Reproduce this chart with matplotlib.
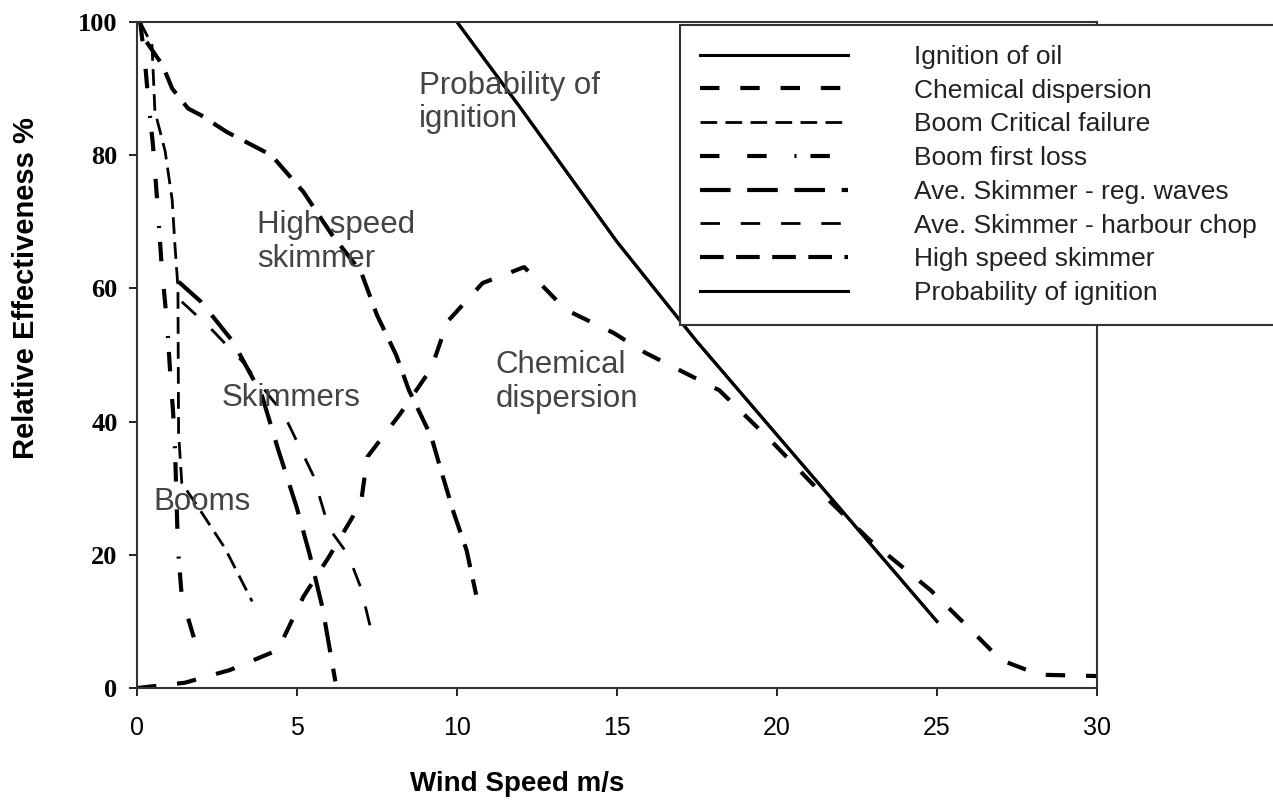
import matplotlib
matplotlib.use("Agg")
import matplotlib.pyplot as plt

plt.rcParams['lines.scale_dashes'] = False

# ---- data ----
ignition_x = [10, 12, 15, 17.5, 20, 22.5, 25]
ignition_y = [100, 87, 67, 52, 38, 24, 10]

chem_x = [0, 1.5, 2.9, 4.4, 5.2, 6.0, 7.0, 7.2, 8.2, 9.2, 9.7, 10.8, 12.1, 13.4,
          14.9, 15.9, 18.2, 19.8, 21.3, 22.9, 24.8, 25.9, 27, 28.2, 30]
chem_y = [0, 0.8, 2.7, 5.7, 13.7, 19.7, 27.8, 34.7, 41, 48, 55, 60.8, 63.2, 56.8,
          53.3, 50.3, 44.7, 37.2, 29.7, 22.2, 14.7, 9.5, 4.2, 2, 1.8]

boom_crit_x = [0.1, 0.47, 0.56, 0.88, 1.1, 1.19, 1.28, 1.3, 1.4, 2.0, 2.75, 3.6]
boom_crit_y = [100, 96.5, 86.6, 80.6, 73.3, 66.2, 60.2, 38.3, 30.8, 26.5, 21, 13]

boom_first_x = [0.1, 0.25, 0.34, 0.5, 0.65, 0.78, 0.94, 1.03, 1.13, 1.19, 1.28, 1.4, 1.8, 2.1]
boom_first_y = [100, 94, 89, 81.5, 72, 62.8, 54.8, 48, 41.3, 35.7, 21, 13.7, 7.2, 5]

skim_reg_x = [1.3, 2.0, 3.0, 3.9, 4.4, 5.0, 5.4, 5.8, 6.2]
skim_reg_y = [61, 58, 52, 44, 36, 27, 20, 12, 1]

skim_chop_x = [1.4, 2.3, 3.3, 4.6, 5.1, 5.5, 6.0, 6.6, 7.0, 7.3]
skim_chop_y = [58, 54, 49, 41, 36, 32, 24, 20, 15, 9]

hss_x = [0.3, 0.8, 1.1, 1.6, 2.0, 2.8, 4.2, 5.2, 6.1, 7.0, 7.5, 8.1, 8.5, 9.2, 9.5, 9.9, 10.3, 10.6]
hss_y = [97, 93.5, 90, 87, 86, 83.5, 80, 74.5, 68, 62.5, 56, 50, 44.7, 37.7, 32.7, 26.3, 20.7, 14]

x_ticks = [0, 5, 10, 15, 20, 25, 30]
y_ticks = [0, 20, 40, 60, 80, 100]

sans = ['Liberation Sans', 'DejaVu Sans']

fig = plt.figure(figsize=(12.73, 8.02), dpi=100)
ax = fig.add_axes([0.1076, 0.1421, 0.7541, 0.8305])

ax.plot(ignition_x, ignition_y, color='black', lw=2.2, label='Ignition of oil')
ax.plot(chem_x, chem_y, color='black', lw=3, dashes=(14, 15), label='Chemical dispersion')
ax.plot(boom_crit_x, boom_crit_y, color='black', lw=2, dashes=(12, 6), label='Boom Critical failure')
ax.plot(boom_first_x, boom_first_y, color='black', lw=3, dashes=(14, 20, 14, 20, 1.5, 10),
        label='Boom first loss')
ax.plot(skim_reg_x, skim_reg_y, color='black', lw=3, dashes=(22, 12), label='Ave. Skimmer - reg. waves')
ax.plot(skim_chop_x, skim_chop_y, color='black', lw=2, dashes=(14, 15), label='Ave. Skimmer - harbour chop')
ax.plot(hss_x, hss_y, color='black', lw=3, dashes=(17, 9), label='High speed skimmer')
ax.plot(ignition_x, ignition_y, color='black', lw=2.2, label='Probability of ignition')

ax.set_xlim(0, 30)
ax.set_ylim(0, 100)
ax.set_xticks(x_ticks)
ax.set_xticklabels([str(v) for v in x_ticks], fontsize=18, family=sans)
ax.set_yticks(y_ticks)
ax.set_yticklabels([str(v) for v in y_ticks], fontsize=19, fontweight='bold',
                   family=['Liberation Serif', 'DejaVu Serif'])
ax.tick_params(direction='out', length=6, width=1.2)
ax.tick_params(axis='x', pad=14)
ax.tick_params(axis='y', pad=8)
for sp in ax.spines.values():
    sp.set_linewidth(1.5)
    sp.set_color('#333333')

ax.set_xlabel('Wind Speed m/s', fontsize=20, fontweight='bold', family=sans)
ax.xaxis.set_label_coords(0.396, -0.125)
ax.set_ylabel('Relative Effectiveness %', fontsize=21, fontweight='bold', family=sans)
ax.yaxis.set_label_coords(-0.101, 0.60)

# labels written inside the plot
tkw = dict(fontsize=22.5, color='#444444', family=sans, linespacing=1.15)
ax.text(8.8, 92.7, 'Probability of\nignition', va='top', **tkw)
ax.text(3.75, 71.7, 'High speed\nskimmer', va='top', **tkw)
ax.text(2.65, 43.5, 'Skimmers', va='center', **tkw)
ax.text(0.5, 28, 'Booms', va='center', **tkw)
ax.text(11.2, 50.7, 'Chemical\ndispersion', va='top', **tkw)

leg = fig.legend(loc='upper left', bbox_to_anchor=(680 / 1273, 1 - 25 / 802),
                 borderaxespad=0, ncol=1, frameon=True, fancybox=False,
                 edgecolor='#333333', framealpha=1, handlelength=5.6,
                 handletextpad=2.5, labelspacing=0.37, borderpad=0.75,
                 prop={'family': sans, 'size': 19})
leg.get_frame().set_linewidth(1.5)
for t in leg.get_texts():
    t.set_color('#222222')

fig.savefig('out.png', dpi=100)
